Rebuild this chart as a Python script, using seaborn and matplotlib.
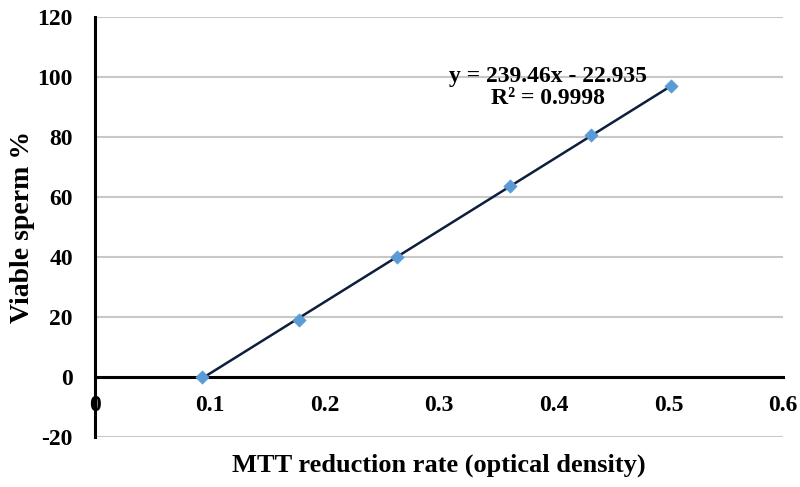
import numpy as np
import pandas as pd
import matplotlib
matplotlib.use('Agg')
import matplotlib.pyplot as plt
import seaborn as sns

# MTT reduction rate (optical density) vs viable sperm %
od_values = [0.093, 0.178, 0.263, 0.362, 0.432, 0.502]
viable_pct = [0, 19, 40, 63.5, 80.5, 97]
x_ticks = [0, 0.1, 0.2, 0.3, 0.4, 0.5, 0.6]
x_tick_labels = ['0', '0.1', '0.2', '0.3', '0.4', '0.5', '0.6']
y_ticks = [-20, 0, 20, 40, 60, 80, 100, 120]
equation_text = 'y = 239.46x - 22.935\nR\u00b2 = 0.9998'

df = pd.DataFrame({'od': od_values, 'viable': viable_pct})

sns.set_style('white')
plt.rcParams['font.family'] = ['Liberation Serif', 'DejaVu Serif']
plt.rcParams['font.weight'] = 'bold'
plt.rcParams['axes.unicode_minus'] = False
plt.rcParams['text.color'] = 'black'
plt.rcParams['axes.labelcolor'] = 'black'
plt.rcParams['xtick.color'] = 'black'
plt.rcParams['ytick.color'] = 'black'

fig = plt.figure(figsize=(8, 4.87), dpi=100)
ax = fig.add_axes([0.119, 0.103, 0.86, 0.862])

# trend line
sns.regplot(data=df, x='od', y='viable', ax=ax, scatter=False, ci=None,
            truncate=True, color='#0d1f3c', line_kws={'lw': 1.8, 'zorder': 3})
# data points
sns.scatterplot(data=df, x='od', y='viable', ax=ax, marker='D', s=45,
                color='#5b9bd5', edgecolor='#5b9bd5', zorder=4, legend=False)

ax.set_xlim(0, 0.6)
ax.set_ylim(-20, 120)
ax.set_yticks(y_ticks)
ax.set_xticks(x_ticks)
ax.set_xticklabels(x_tick_labels)

ax.yaxis.grid(True, color='#c8c8c8', lw=1.5)
ax.set_axisbelow(True)

for side in ['top', 'right']:
    ax.spines[side].set_visible(False)
ax.spines['bottom'].set_position(('data', 0))
ax.spines['bottom'].set_linewidth(2.2)
ax.spines['bottom'].set_color('black')
ax.spines['left'].set_linewidth(2.2)
ax.spines['left'].set_color('black')

ax.tick_params(axis='y', direction='out', length=7, width=2, labelsize=17, pad=9,
               colors='black', labelcolor='black')
ax.tick_params(axis='x', direction='out', length=5, width=2, labelsize=17, pad=8,
               colors='black', labelcolor='black')

ax.set_xlabel('MTT reduction rate (optical density)', fontsize=19,
              fontweight='bold', color='black')
ax.set_ylabel('Viable sperm %', fontsize=20, fontweight='bold', color='black')
ax.xaxis.set_label_coords(0.5, -0.04)
ax.yaxis.set_label_coords(-0.087, 0.5)

ax.text(0.395, 96.5, equation_text, ha='center', va='center', fontsize=17,
        fontweight='bold', linespacing=1.05, color='black')

fig.savefig('out.png', dpi=100)
